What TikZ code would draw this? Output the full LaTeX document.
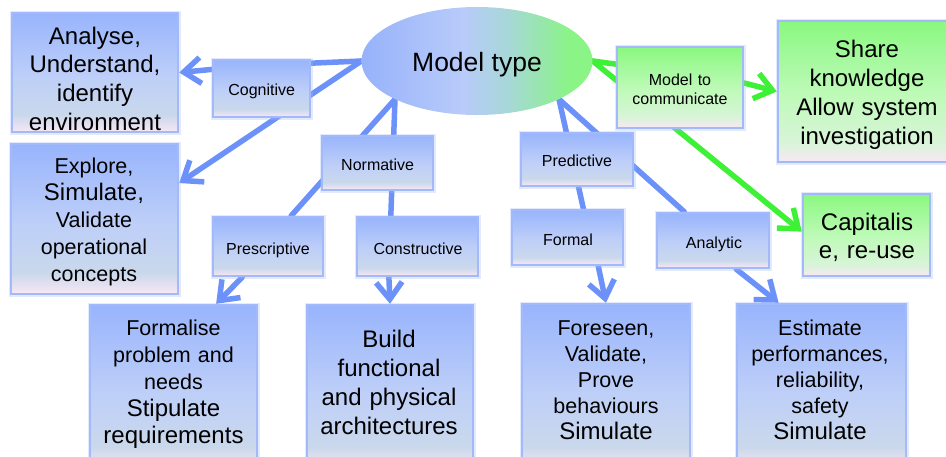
\documentclass[tikz,border=0pt]{standalone}
\usepackage{fontspec}
\setmainfont{Liberation Sans}
\usetikzlibrary{arrows.meta,shapes.geometric}

% connector colours
\definecolor{linkblue}{RGB}{108,146,250}
\definecolor{linkgreen}{RGB}{62,240,54}
% box colours
\definecolor{rimblue}{RGB}{162,186,250}
\definecolor{bxtop}{RGB}{152,180,252}
\definecolor{bxmid}{RGB}{190,207,248}
\definecolor{bxlow}{RGB}{202,216,236}
\definecolor{bxbot}{RGB}{248,232,244}
\definecolor{gxtop}{RGB}{138,248,128}
\definecolor{gxmid}{RGB}{192,250,186}
\definecolor{gxlow}{RGB}{216,244,216}
% oval colours
\definecolor{elblue}{RGB}{150,178,250}
\definecolor{ellight}{RGB}{184,203,250}
\definecolor{elteal}{RGB}{166,216,214}
\definecolor{elgreen}{RGB}{138,244,134}

\pgfdeclareverticalshading{bluebox}{100bp}{color(0bp)=(bxbot); color(25bp)=(bxbot); color(32bp)=(bxlow); color(48bp)=(bxmid); color(75bp)=(bxtop); color(100bp)=(bxtop)}
\pgfdeclareverticalshading{greenbox}{100bp}{color(0bp)=(bxbot); color(25bp)=(bxbot); color(32bp)=(gxlow); color(48bp)=(gxmid); color(75bp)=(gxtop); color(100bp)=(gxtop)}
\pgfdeclarehorizontalshading{ovalshade}{100bp}{color(0bp)=(elblue); color(25bp)=(elblue); color(47bp)=(ellight); color(57bp)=(elteal); color(70bp)=(elgreen); color(100bp)=(elgreen)}

\pgfdeclarelayer{links}
\pgfsetlayers{links,main}

\tikzset{
  card/.style={draw=rimblue, line width=2.4pt, shading=bluebox, inner sep=0pt,
    preaction={draw=rimblue, line width=5pt, draw opacity=0.3}},
  greencard/.style={card, shading=greenbox},
  label text/.style={anchor=base, align=center, inner sep=0pt, text=black},
  big text/.style={label text, text width=200pt},
  linkline/.style={draw=linkblue, line width=5.5pt, line cap=round, line join=round},
  glinkline/.style={linkline, draw=linkgreen},
  headed/.style={-{Straight Barb[length=17pt,width=26pt]}},
}

\newcommand{\bigline}[1]{{\fontsize{24}{27}\selectfont #1}}

\begin{document}
\begin{tikzpicture}[x=1pt, y=-1pt]
\useasboundingbox (0,0) rectangle (946,456);
\clip (0,0) rectangle (946,456);

% central oval
\node[ellipse, shading=ovalshade, minimum width=231pt, minimum height=108pt, inner sep=0pt] (ell) at (477,61) {};
\node[label text, font=\fontsize{26.5}{30}\selectfont] (tMT) at (477,71.7) {Model type};

% category boxes
\node[card, minimum width=97pt, minimum height=57pt] (cog) at (261.5,88.5) {};
\node[card, minimum width=111pt, minimum height=54pt] (norm) at (377.5,163) {};
\node[card, minimum width=110pt, minimum height=59pt] (presc) at (268,246.5) {};
\node[card, minimum width=121pt, minimum height=59pt] (constr) at (417.5,246.5) {};
\node[card, minimum width=112pt, minimum height=53pt] (pred) at (577,159.5) {};
\node[card, minimum width=111pt, minimum height=55pt] (formal) at (567.5,237.5) {};
\node[card, minimum width=112pt, minimum height=55pt] (analytic) at (713,240.5) {};
\node[greencard, minimum width=126pt, minimum height=81pt] (mtc) at (680,87.5) {};

% purpose boxes
\node[card, minimum width=166pt, minimum height=119pt] (bA) at (95,72.5) {};
\node[card, minimum width=167pt, minimum height=150pt] (bE) at (94.5,219) {};
\node[card, minimum width=167pt, minimum height=165pt] (bFm) at (173.5,387.5) {};
\node[card, minimum width=166pt, minimum height=165pt] (bBu) at (390,387.5) {};
\node[card, minimum width=168pt, minimum height=166pt] (bFo) at (606,387) {};
\node[card, minimum width=169pt, minimum height=166pt] (bEs) at (821.5,387) {};
\node[greencard, minimum width=172pt, minimum height=141pt] (bSh) at (864,91.5) {};
\node[greencard, minimum width=127pt, minimum height=82pt] (bCap) at (866.5,235) {};

% small labels
\begin{scope}[every node/.append style={label text, font=\fontsize{16}{19}\selectfont}]
\node (tcog) at (261.7,95) {Cognitive};
\node (tnorm) at (377.7,170) {Normative};
\node (tpresc) at (268,254) {Prescriptive};
\node (tconstr) at (418,254) {Constructive};
\node (tpred) at (577,166) {Predictive};
\node (tformal) at (568,245) {Formal};
\node (tanalytic) at (714,248) {Analytic};
\node[text width=120pt] (tmtc) at (680,85) {Model to\\communicate};
\end{scope}

% purpose texts
\node[big text, font=\fontsize{24}{28.7}\selectfont] (tA) at (95,44) {Analyse,\\Understand,\\identify\\environment};
\node[big text, font=\fontsize{21.5}{27}\selectfont] (tE) at (94,173) {Explore,\\\bigline{Simulate,}\\Validate\\operational\\concepts};
\node[big text, font=\fontsize{21.5}{27}\selectfont] (tFm) at (173.5,335) {Formalise\\problem and\\needs\\\bigline{Stipulate}\\\bigline{requirements}};
\node[big text, font=\fontsize{24}{29}\selectfont] (tBu) at (389,347) {Build\\functional\\and physical\\architectures};
\node[big text, font=\fontsize{21.5}{26}\selectfont] (tFo) at (606,335) {Foreseen,\\Validate,\\Prove\\behaviours\\\bigline{Simulate}};
\node[big text, font=\fontsize{21.5}{26}\selectfont] (tEs) at (820,335) {Estimate\\performances,\\reliability,\\safety\\\bigline{Simulate}};
\node[big text, font=\fontsize{24}{29}\selectfont] (tSh) at (867,57) {Share\\knowledge\\Allow system\\investigation};
\node[big text, font=\fontsize{24}{28}\selectfont] (tCap) at (867,230) {Capitalis\\e, re-use};

% connectors, kept under the boxes
\begin{pgfonlayer}{links}
\draw[linkline] (ell.west) -- (cog.27);
\draw[linkline, headed] (ell.west) -- (bE.23);
\draw[linkline, headed] (cog.159) -- (bA.east);
\draw[linkline] (ell.205) -- (presc.53);
\draw[linkline] (ell.205) -- (constr.131);
\draw[linkline] (ell.335) -- (formal.61);
\draw[linkline] (ell.335) -- (analytic.135);
\draw[linkline, headed] (presc.230) -- (bFm.63);
\draw[linkline, headed] (constr.227) -- (bBu.north);
\draw[linkline, headed] (formal.317) -- (bFo.north);
\draw[linkline, headed] (analytic.309) -- (bEs.117);
\draw[glinkline] (ell.east) -- (mtc.160);
\draw[glinkline, headed] (ell.east) -- (bCap.177);
\draw[glinkline, headed] (mtc.4) -- (bSh.west);
\end{pgfonlayer}
\end{tikzpicture}
\end{document}
